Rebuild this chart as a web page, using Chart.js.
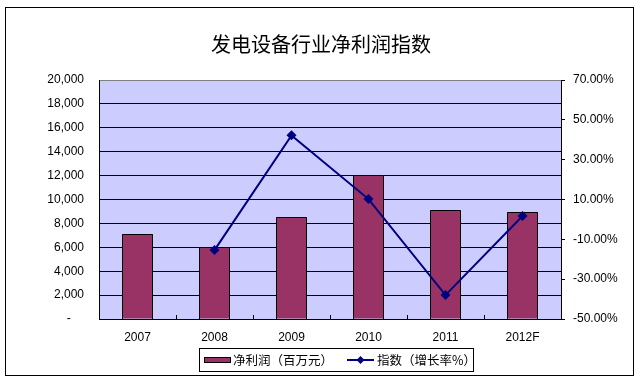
<!DOCTYPE html>
<html>
<head>
<meta charset="utf-8">
<script src="https://cdn.jsdelivr.net/npm/chart.js@4/dist/chart.umd.min.js"></script>
<style>
html,body{margin:0;padding:0;background:#fff;}
#wrap{width:641px;height:382px;}
</style>
</head>
<body>
<div id="wrap"><canvas id="c" width="641" height="382"></canvas></div>
<script>
const categories = ['2007', '2008', '2009', '2010', '2011', '2012F'];
const netProfit = [7100, 6000, 8500, 12050, 9100, 8950];
const growthIndex = [null, -15.4, 42.2, 10.2, -38.0, 1.7];
const titleText = '发电设备行业净利润指数';
const barLabel = '净利润（百万元）';
const lineLabel = '指数（增长率%）';

const BAR_COLOR = '#993366';
const LINE_COLOR = '#000080';
const TICK_FONT = {family: '"Liberation Sans", Arial, sans-serif', size: 12};
const CJK = '"Noto Sans CJK SC", sans-serif';

const decor = {
  id: 'decor',
  beforeDraw(chart) {
    const ctx = chart.ctx, a = chart.chartArea;
    ctx.save();
    ctx.fillStyle = '#fff';
    ctx.fillRect(0, 0, chart.width, chart.height);
    ctx.fillStyle = '#ccccff';
    ctx.fillRect(a.left, a.top, a.right - a.left, a.bottom - a.top);
    ctx.restore();
  },
  afterDatasetDraw(chart, args) {
    if (args.meta.type !== 'bar') return;
    const ctx = chart.ctx;
    ctx.save();
    ctx.strokeStyle = '#000';
    ctx.lineWidth = 1;
    args.meta.data.forEach(el => {
      const l = Math.round(el.x - el.width / 2) + 0.5;
      const r = Math.round(el.x + el.width / 2) - 0.5;
      const t = Math.round(el.y) + 0.5;
      const b = Math.round(el.base);
      ctx.beginPath();
      ctx.moveTo(l, b);
      ctx.lineTo(l, t);
      ctx.lineTo(r, t);
      ctx.lineTo(r, b);
      ctx.stroke();
    });
    ctx.restore();
  },
  afterDatasetsDraw(chart) {
    const ctx = chart.ctx, a = chart.chartArea, xs = chart.scales.x;
    ctx.save();
    ctx.strokeStyle = '#000';
    ctx.lineWidth = 1;
    const n = categories.length;
    const w = (xs.getPixelForValue(1) - xs.getPixelForValue(0));
    for (let i = 1; i < n; i++) {
      const x = Math.round(xs.getPixelForValue(i) - w / 2) + 0.5;
      ctx.beginPath();
      ctx.moveTo(x, a.bottom);
      ctx.lineTo(x, a.bottom - 4);
      ctx.stroke();
    }
    ctx.restore();
  },
  afterDraw(chart) {
    const ctx = chart.ctx;
    ctx.save();
    ctx.strokeStyle = '#000';
    ctx.lineWidth = 1;
    ctx.strokeRect(5.5, 7.5, 628, 368);
    ctx.fillStyle = '#000';
    ctx.font = '20px ' + CJK;
    ctx.textAlign = 'center';
    ctx.textBaseline = 'middle';
    ctx.fillText(titleText, 321, 44);
    ctx.strokeRect(199.5, 348.5, 274, 23);
    ctx.fillStyle = BAR_COLOR;
    ctx.fillRect(204, 357, 27, 6);
    ctx.strokeRect(204.5, 357.5, 26, 5);
    ctx.font = '12.5px ' + CJK;
    ctx.textAlign = 'left';
    ctx.fillStyle = '#000';
    ctx.fillText(barLabel, 233, 360.5);
    ctx.strokeStyle = LINE_COLOR;
    ctx.lineWidth = 2;
    ctx.beginPath();
    ctx.moveTo(347, 360);
    ctx.lineTo(374, 360);
    ctx.stroke();
    ctx.fillStyle = LINE_COLOR;
    ctx.beginPath();
    ctx.moveTo(360.5, 356);
    ctx.lineTo(364.5, 360);
    ctx.lineTo(360.5, 364);
    ctx.lineTo(356.5, 360);
    ctx.closePath();
    ctx.fill();
    ctx.fillStyle = '#000';
    ctx.fillText(lineLabel, 377, 360.5);
    ctx.restore();
  }
};

new Chart(document.getElementById('c'), {
  data: {
    labels: categories,
    datasets: [
      {
        type: 'line',
        label: lineLabel,
        data: growthIndex,
        yAxisID: 'y1',
        borderColor: LINE_COLOR,
        backgroundColor: LINE_COLOR,
        borderWidth: 2,
        tension: 0,
        pointStyle: 'rectRot',
        pointRadius: 5,
        pointBorderWidth: 0,
        order: 0,
        clip: false
      },
      {
        type: 'bar',
        label: barLabel,
        data: netProfit,
        yAxisID: 'y',
        backgroundColor: BAR_COLOR,
        borderWidth: 0,
        inflateAmount: 0,
        barThickness: 31,
        order: 1
      }
    ]
  },
  options: {
    responsive: false,
    animation: false,
    devicePixelRatio: 1,
    layout: {padding: {left: 10, right: 10, top: 80, bottom: 38}},
    plugins: {legend: {display: false}, title: {display: false}, tooltip: {enabled: false}},
    scales: {
      x: {
        offset: true,
        grid: {display: true, drawOnChartArea: false, drawTicks: false, offset: true},
        border: {color: '#000', width: 1},
        ticks: {color: '#000', font: TICK_FONT, padding: 11, maxRotation: 0},
        afterFit(s) { s.height = 25; }
      },
      y: {
        position: 'left',
        min: 0, max: 20000,
        ticks: {
          stepSize: 2000, color: '#000', font: TICK_FONT, padding: 15,
          callback: v => v === 0 ? '-    ' : v.toLocaleString('en-US')
        },
        grid: {
          drawTicks: false,
          color: c => (c.tick && c.tick.value === 20000) ? '#808080' : '#000',
          lineWidth: 1
        },
        border: {color: '#000', width: 1},
        afterFit(s) { s.width = 89; }
      },
      y1: {
        position: 'right',
        min: -50, max: 70,
        ticks: {
          stepSize: 20, color: '#000', font: TICK_FONT, padding: 8,
          callback: v => v.toFixed(2) + '%'
        },
        grid: {drawOnChartArea: false, drawTicks: true, tickLength: 4, color: '#000'},
        border: {color: '#000', width: 1},
        afterFit(s) { s.width = 70; }
      }
    }
  },
  plugins: [decor]
});
</script>
</body>
</html>
